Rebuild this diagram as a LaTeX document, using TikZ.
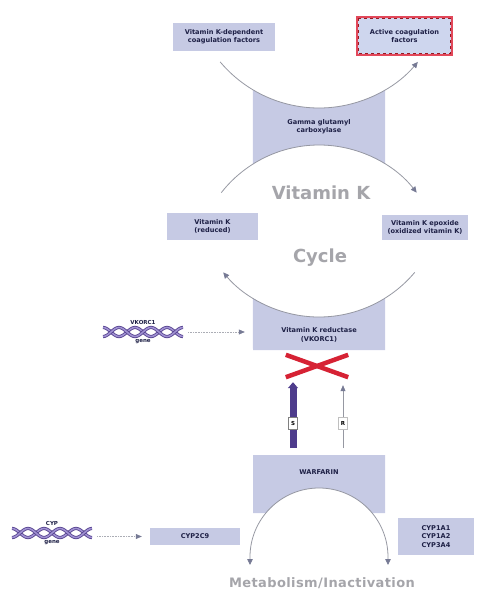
\documentclass[tikz,border=0pt]{standalone}
\usepackage{fontspec}
\setmainfont{DejaVu Sans}
\usetikzlibrary{shapes, arrows.meta, positioning}

\definecolor{boxfill}{RGB}{198,202,228}
\definecolor{boxtext}{RGB}{30,32,70}
\definecolor{arcgray}{RGB}{150,152,162}
\definecolor{tipgray}{RGB}{118,122,148}
\definecolor{bigtext}{RGB}{165,165,170}
\definecolor{helixdark}{RGB}{82,62,140}
\definecolor{helixlight}{RGB}{160,145,210}
\definecolor{warfpurple}{RGB}{78,60,140}
\definecolor{blockred}{RGB}{214,34,52}
\definecolor{activered}{RGB}{226,72,90}
\definecolor{activefill}{RGB}{206,214,238}

\tikzset{
    infobox/.style={
        rectangle, fill=boxfill, text=boxtext, align=center, inner sep=1pt,
        font=\fontsize{6.6}{8.4}\selectfont\bfseries
    },
    boxlabel/.style={
        text=boxtext, align=center, inner sep=1pt,
        font=\fontsize{6.6}{8.4}\selectfont\bfseries
    },
    bigtext/.style={
        text=bigtext, font=\fontsize{18}{20}\selectfont\bfseries
    },
    cyclearc/.style={
        draw=arcgray, line width=0.8pt, -{Triangle[length=6pt, width=5.5pt, color=tipgray]}
    },
    metarc/.style={
        draw=arcgray, line width=0.8pt,
        {Triangle[length=6pt, width=5.5pt, color=tipgray]}-{Triangle[length=6pt, width=5.5pt, color=tipgray]}
    },
    geneflow/.style={
        draw=arcgray!80, densely dotted, line width=0.6pt,
        -{Triangle[length=6pt, width=5pt, color=tipgray]}, shorten <=5pt, shorten >=8pt
    },
    sarrow/.style={
        draw=warfpurple, line width=7pt, -{Triangle[length=6pt, width=10pt, color=warfpurple]}
    },
    rarrow/.style={
        draw=arcgray, line width=0.6pt, -{Triangle[length=6pt, width=5pt, color=tipgray]}
    },
    flaglabel/.style={
        rectangle, fill=white, draw=gray, line width=0.4pt, text=black, inner sep=1pt,
        minimum width=9pt, minimum height=12pt, font=\fontsize{5.5}{6}\selectfont\bfseries
    },
    blockline/.style={
        draw=blockred, line width=4.5pt
    },
    genebox/.style={
        rectangle, minimum width=80pt, minimum height=12pt, inner sep=0pt
    },
    genelabel/.style={
        text=boxtext, inner sep=1pt, font=\fontsize{5.5}{6}\selectfont\bfseries
    },
    strand/.style={
        draw=helixdark, double=helixlight, double distance=1.6pt, line width=0.8pt
    },
    helix/.pic={
        \foreach \ph in {0,180}{
            \draw[strand] plot[domain=-40:40, samples=81, smooth] (\x, {4.5*sin(11.25*\x+\ph)});
        }
    }
}

\begin{document}
\begin{tikzpicture}[x=1pt, y=-1pt]

    \useasboundingbox (0,0) rectangle (486,590);

    % Arc centres
    \coordinate (uc) at (319,-21);
    \coordinate (tc) at (319,269);
    \coordinate (bc) at (319,192);
    \coordinate (wc) at (319,557);

    % Shaded enzyme regions
    \fill[boxfill] ([shift={(239.2:129pt)}]uc) arc[start angle=239.2, end angle=300.8, radius=129pt]
        -- ([shift={(57.8:124pt)}]tc) arc[start angle=57.8, end angle=122.2, radius=124pt] -- cycle;
    \fill[boxfill] ([shift={(238.1:125pt)}]bc) arc[start angle=238.1, end angle=301.9, radius=125pt]
        -- (385,350) -- (253,350) -- cycle;
    \fill[boxfill] (253,455) -- (385,455) -- (385,513)
        -- ([shift={(39.6:69pt)}]wc) arc[start angle=39.6, end angle=140.4, radius=69pt]
        -- (253,513) -- cycle;

    % Coagulation factors
    \node[infobox, minimum width=102pt, minimum height=28pt] (vkDependent) at (224,37) {Vitamin K-dependent\\coagulation factors};
    \node[infobox, fill=activefill, minimum width=95pt, minimum height=38pt] (activeFactors) at (404.5,36) {Active coagulation\\factors};
    \draw[activered, line width=2.4pt] (activeFactors.north west) rectangle (activeFactors.south east);
    \draw[blockred!70!black, line width=0.5pt, dashed] ([shift={(1.6,1.6)}]activeFactors.north west) rectangle ([shift={(-1.6,-1.6)}]activeFactors.south east);

    \node[boxlabel] (gammaCarb) at (319,127) {Gamma glutamyl\\carboxylase};

    % Vitamin K cycle
    \node[infobox, minimum width=91pt, minimum height=27pt] (vkReduced) at (212.5,226.5) {Vitamin K\\(reduced)};
    \node[infobox, minimum width=86pt, minimum height=25pt] (vkEpoxide) at (425,227.5) {Vitamin K epoxide\\(oxidized vitamin K)};
    \node[bigtext] (vkTitle) at (321,193) {Vitamin K};
    \node[bigtext] (cycleTitle) at (320,258) {Cycle};

    \draw[cyclearc] ([shift={(220:129pt)}]uc) arc[start angle=220, end angle=320, radius=129pt];
    \draw[cyclearc] ([shift={(142:124pt)}]tc) arc[start angle=142, end angle=38, radius=124pt];
    \draw[cyclearc] ([shift={(320:125pt)}]bc) arc[start angle=320, end angle=220, radius=125pt];

    % VKORC1
    \node[boxlabel, minimum width=132pt, minimum height=30pt, anchor=south] (vkReductase) at (319,350) {Vitamin K reductase\\(VKORC1)};
    \node[genebox] (vkorGene) at (143,332) {};
    \pic at (vkorGene) {helix};
    \node[genelabel, above=0pt of vkorGene] (vkorName) {VKORC1};
    \node[genelabel, below=0pt of vkorGene] (vkorWord) {gene};
    \draw[geneflow] (vkorGene.east) -- (vkorGene.east -| vkReductase.west);

    % Warfarin block
    \node[minimum width=62pt, minimum height=22pt] (vkBlock) at (317,366) {};
    \draw[blockline] (vkBlock.north west) -- (vkBlock.south east);
    \draw[blockline] (vkBlock.south west) -- (vkBlock.north east);

    \node[boxlabel] (warfarin) at (319,472) {WARFARIN};
    \coordinate (sFoot) at (293,448);
    \coordinate (rFoot) at (343,448);
    \draw[sarrow, shorten >=5pt] (sFoot) -- (sFoot |- vkBlock.south) node[flaglabel, pos=0.35] {S};
    \draw[rarrow, shorten >=8pt] (rFoot) -- (rFoot |- vkBlock.south) node[flaglabel, draw=gray!50, pos=0.35] {R};

    % Metabolism
    \draw[metarc] ([shift={(180:69pt)}, yshift=-8pt]wc) -- ([shift={(180:69pt)}]wc)
        arc[start angle=180, end angle=0, radius=69pt] -- ++(0,8);

    \node[genebox] (cypGene) at (52,533) {};
    \pic at (cypGene) {helix};
    \node[genelabel, above=0pt of cypGene] (cypName) {CYP};
    \node[genelabel, below=0pt of cypGene] (cypWord) {gene};
    \node[infobox, minimum width=90pt, minimum height=17pt] (cyp2c9) at (195,536.5) {CYP2C9};
    \draw[geneflow] (cypGene.east |- cyp2c9) -- (cyp2c9.west);
    \node[infobox, minimum width=76pt, minimum height=37pt] (cypOthers) at (436,536.5) {CYP1A1\\CYP1A2\\CYP3A4};

    \node[bigtext, font=\fontsize{13}{14}\selectfont\bfseries\addfontfeatures{LetterSpace=3}] (metabolism) at (322,583) {Metabolism/Inactivation};

\end{tikzpicture}
\end{document}
